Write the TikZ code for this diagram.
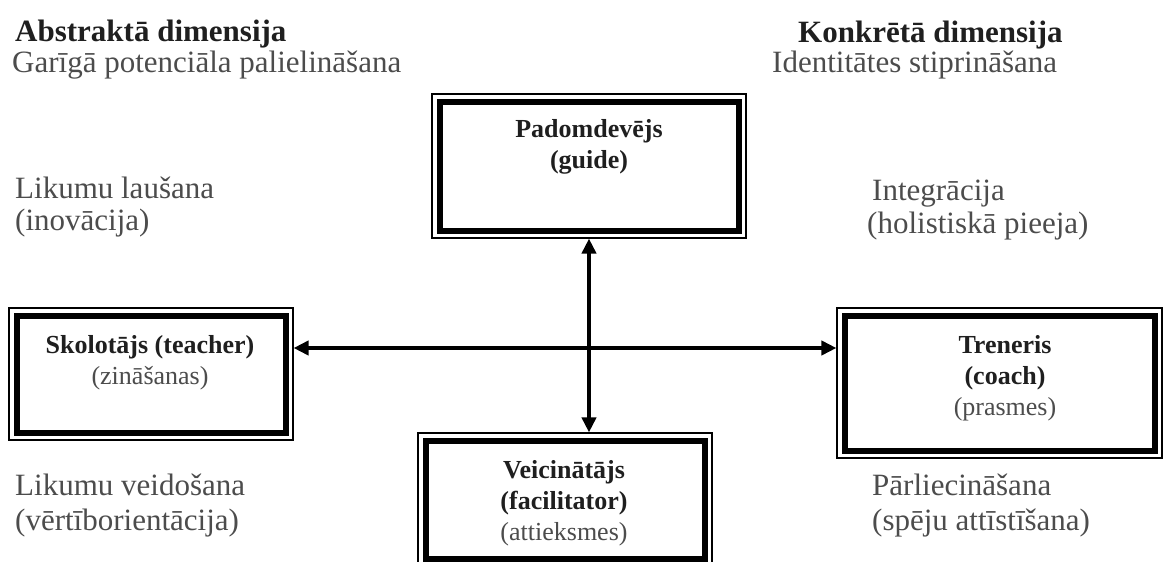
\documentclass[tikz,border=0pt]{standalone}
\usepackage{fontspec}
\setmainfont{Liberation Serif}
\usepackage{xcolor}
\usetikzlibrary{arrows.meta}

\definecolor{inkgray}{gray}{0.3}
\definecolor{inkdark}{gray}{0.12}
\newcommand{\rolename}[1]{\textcolor{inkdark}{\bfseries #1}}

\tikzset{
  roleframe/.style={draw=black, line width=1.1pt, fill=white, inner sep=0pt,
    path picture={\draw[line width=6pt] ([shift={(7.5pt,7.5pt)}]path picture bounding box.south west) rectangle ([shift={(-7.5pt,-7.5pt)}]path picture bounding box.north east);}},
  roletext/.style={align=center, font=\fontsize{26}{31}\selectfont, text=inkgray},
  sidetext/.style={anchor=base west, inner sep=0pt, font=\fontsize{31}{34}\selectfont, text=inkgray},
  headtext/.style={anchor=base west, inner sep=0pt, font=\fontsize{31}{34}\selectfont\bfseries, text=inkdark},
  linkarrow/.style={{Triangle[length=15pt,width=14pt]}-{Triangle[length=15pt,width=14pt]}, line width=4pt}
}

\begin{document}
\begin{tikzpicture}[x=1pt,y=-1pt]
\useasboundingbox (0,0) rectangle (1165,562);
\clip (0,0) rectangle (1165,562);

\coordinate (hub) at (589,348);

% the four roles
\node[roleframe, minimum width=314pt, minimum height=144pt] (guide) at (589,166) {};
\node[roletext] (guidetxt) at (589,147) {\rolename{Padomdevējs}\\\rolename{(guide)}};

\node[roleframe, minimum width=284pt, minimum height=132pt] (teacher) at (151,374) {};
\node[roletext] (teachertxt) at (150,363) {\rolename{Skolotājs (teacher)}\\(zināšanas)};

\node[roleframe, minimum width=325pt, minimum height=150pt] (coach) at (999.5,383) {};
\node[roletext] (coachtxt) at (1005,378) {\rolename{Treneris}\\\rolename{(coach)}\\(prasmes)};

\node[roleframe, minimum width=294pt, minimum height=133pt] (facil) at (565,499.5) {};
\node[roletext] (faciltxt) at (564,503) {\rolename{Veicinātājs}\\\rolename{(facilitator)}\\(attieksmes)};

% arrows
\draw[linkarrow] (teacher.east |- hub) -- (coach.west |- hub);
\draw[linkarrow] (guide.south) -- (facil.north -| hub);

% side texts
\node[headtext] (abstr) at (15,41) {Abstraktā dimensija};
\node[sidetext] (abstrsub) at (12,72) {Garīgā potenciāla palielināšana};
\node[headtext] (konkr) at (798,42) {Konkrētā dimensija};
\node[sidetext] (konkrsub) at (772,72) {Identitātes stiprināšana};

\node[sidetext] (lawbreak) at (15,198) {Likumu laušana};
\node[sidetext] (lawbreaksub) at (15,230) {(inovācija)};
\node[sidetext] (integr) at (872,200) {Integrācija};
\node[sidetext] (integrsub) at (867,233) {(holistiskā pieeja)};

\node[sidetext] (lawmake) at (15,495) {Likumu veidošana};
\node[sidetext] (lawmakesub) at (15,530) {(vērtīborientācija)};
\node[sidetext] (persu) at (872,495) {Pārliecināšana};
\node[sidetext] (persusub) at (872,530) {(spēju attīstīšana)};
\end{tikzpicture}
\end{document}
